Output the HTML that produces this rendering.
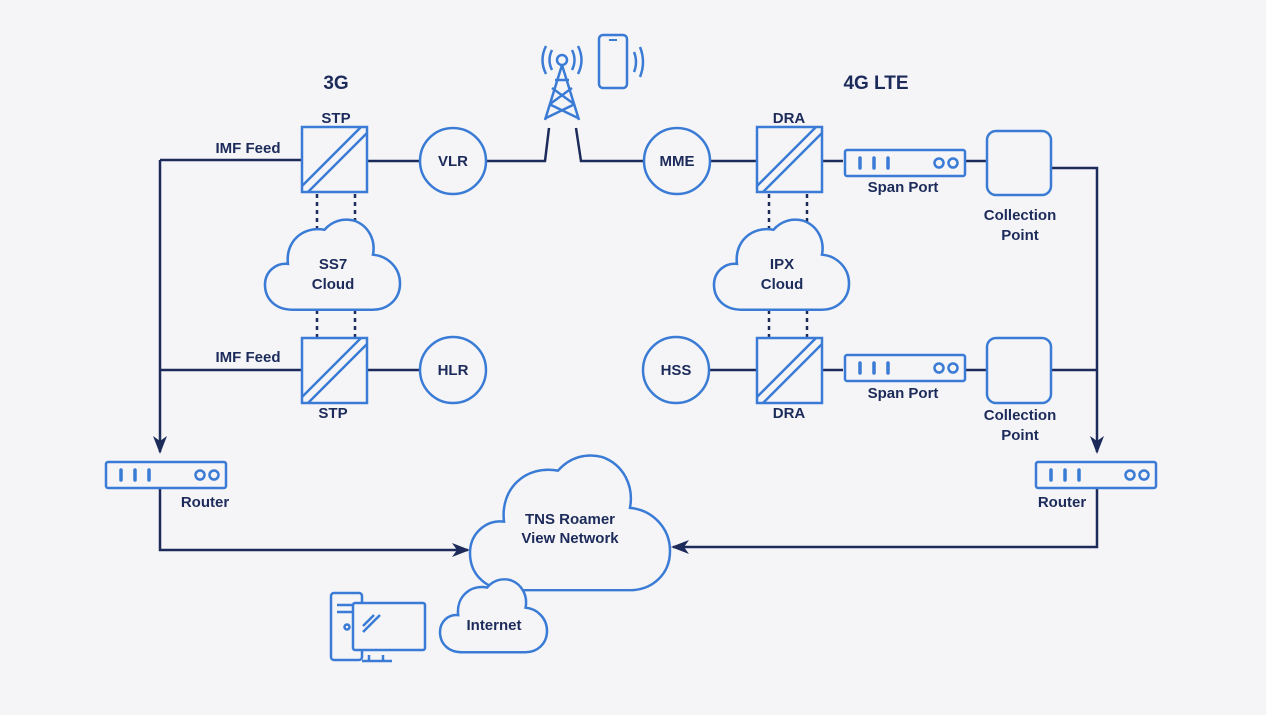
<!DOCTYPE html>
<html><head><meta charset="utf-8"><style>
html,body{margin:0;padding:0;background:#f5f5f8;}
svg{display:block;}
text{font-family:"Liberation Sans",sans-serif;font-weight:bold;fill:#1c2b5a;text-anchor:middle;}
</style></head><body>
<svg width="1266" height="715" viewBox="0 0 1266 715" xmlns="http://www.w3.org/2000/svg">
<defs>
<path id="cloud" d="M20,70 C8,70 0,62 0,51 C0,41 8,34 17,35 C15,18 28,6 44,9 C50,2 58,0 66,2 C77,6 82,17 80,28 C91,29 100,38 100,50 C100,62 91,70 80,70 Z"/>
<marker id="ar" markerWidth="18" markerHeight="14" refX="16" refY="7" orient="auto" markerUnits="userSpaceOnUse" viewBox="0 0 18 14"><path d="M0,0 L18,7 L0,14 L5,7 Z" fill="#1c2b5a"/></marker>
</defs>
<rect width="1266" height="715" fill="#f5f5f8"/>
<g stroke="#1c2b5a" stroke-width="2.5" fill="none">
<path d="M160,160 H302"/>
<path d="M160,160 V452" marker-end="url(#ar)"/>
<path d="M160,370 H302"/>
<path d="M367,161 H420"/>
<path d="M367,370 H420"/>
<path d="M486,161 H545 L549,128"/>
<path d="M576,128 L581,161 H644"/>
<path d="M710,161 H757"/>
<path d="M822,161 H843"/>
<path d="M965,161 H987"/>
<path d="M1051,168 H1097 V452" marker-end="url(#ar)"/>
<path d="M709,370 H757"/>
<path d="M822,370 H843"/>
<path d="M965,370 H987"/>
<path d="M1051,370 H1097"/>
<path d="M160,488 V550 H468" marker-end="url(#ar)"/>
<path d="M1097,488 V547 H673" marker-end="url(#ar)"/>
<g stroke-dasharray="4,4">
<path d="M317,194 V228"/><path d="M355,194 V228"/>
<path d="M317,310 V338"/><path d="M355,310 V338"/>
<path d="M769,194 V228"/><path d="M807,194 V228"/>
<path d="M769,310 V338"/><path d="M807,310 V338"/>
</g>
</g>
<g stroke="#3a7bd5" stroke-width="2.5" fill="#f5f5f8">
<g id="sw"><rect x="302" y="127" width="65" height="65"/><path d="M302,186 L361,127 M308,192 L367,133"/></g>
<use href="#sw" y="211"/>
<use href="#sw" x="455"/>
<use href="#sw" x="455" y="211"/>
<circle cx="453" cy="161" r="33"/>
<circle cx="453" cy="370" r="33"/>
<circle cx="677" cy="161" r="33"/>
<circle cx="676" cy="370" r="33"/>
<g id="rt"><rect x="845" y="150" width="120" height="26" rx="2"/>
<path d="M860,158 V168 M874,158 V168 M888,158 V168" stroke-width="3.5" stroke-linecap="round"/>
<circle cx="939" cy="163" r="4.5"/><circle cx="953" cy="163" r="4.5"/></g>
<use href="#rt" y="205"/>
<use href="#rt" x="-739" y="312"/>
<use href="#rt" x="191" y="312"/>
<rect x="987" y="131" width="64" height="64" rx="9"/>
<rect x="987" y="338" width="64" height="65" rx="9"/>
<use href="#cloud" transform="translate(265,218) scale(1.35,1.31)" stroke-width="1.9"/>
<use href="#cloud" transform="translate(714,218) scale(1.35,1.31)" stroke-width="1.9"/>
<use href="#cloud" transform="translate(470,453) scale(2.0,1.96)" stroke-width="1.25"/>
<use href="#cloud" transform="translate(440,578) scale(1.07,1.06)" stroke-width="2.35"/>
<g fill="none">
<circle cx="562" cy="60" r="5"/>
<path d="M562,65 L545,120 M562,65 L579,120 M552,88 L574,104 M572,88 L550,104 M549,104 L578,118 M575,104 L546,118 M555,80 L569,80"/>
<path d="M552,50 Q547,60 552,70 M546,46 Q539,60 546,74 M572,50 Q577,60 572,70 M578,46 Q585,60 578,74"/>
<rect x="599" y="35" width="28" height="53" rx="4"/>
<path d="M609,40 H617" stroke-width="2"/>
<path d="M634,52 Q638,62 634,72 M640,47 Q646,62 640,77"/>
<rect x="331" y="593" width="31" height="67" rx="3"/>
<path d="M337,605 H355 M337,612 H355"/>
<circle cx="347" cy="627" r="2.5"/>
<rect x="353" y="603" width="72" height="47" rx="2" fill="#f5f5f8"/>
<path d="M369,655 V661 M383,655 V661 M362,661 H392 M363,626 L374,615 M363,632 L380,615"/>
</g>
</g>
<g font-size="15">
<text x="336" y="89" font-size="19">3G</text>
<text x="876" y="89" font-size="19">4G LTE</text>
<text x="336" y="123">STP</text>
<text x="333" y="418">STP</text>
<text x="789" y="123">DRA</text>
<text x="789" y="418">DRA</text>
<text x="248" y="153">IMF Feed</text>
<text x="248" y="362">IMF Feed</text>
<text x="453" y="166">VLR</text>
<text x="453" y="375">HLR</text>
<text x="677" y="166">MME</text>
<text x="676" y="375">HSS</text>
<text x="333" y="269">SS7</text><text x="333" y="289">Cloud</text>
<text x="782" y="269">IPX</text><text x="782" y="289">Cloud</text>
<text x="903" y="192">Span Port</text>
<text x="903" y="398">Span Port</text>
<text x="1020" y="220">Collection</text><text x="1020" y="240">Point</text>
<text x="1020" y="420">Collection</text><text x="1020" y="440">Point</text>
<text x="205" y="507">Router</text>
<text x="1062" y="507">Router</text>
<text x="570" y="524">TNS Roamer</text><text x="570" y="543">View Network</text>
<text x="494" y="630">Internet</text>
</g>
</svg>
</body></html>
